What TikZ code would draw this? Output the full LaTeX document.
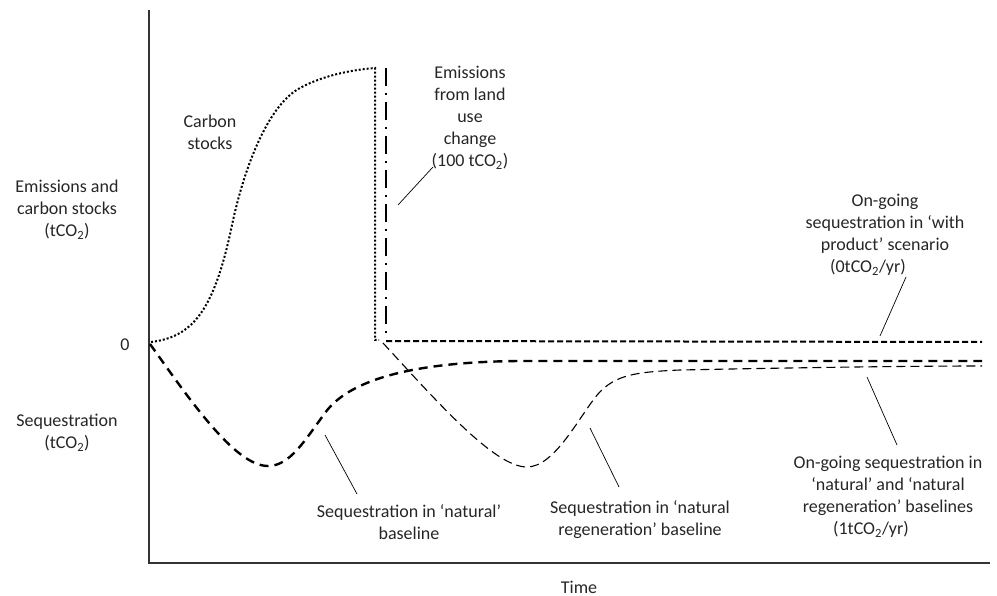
\documentclass[tikz,border=0pt]{standalone}
\usepackage{fontspec}
\setmainfont{Carlito}
\begin{document}
\begin{tikzpicture}[x=1pt,y=-1pt,
  lbl/.style={align=center,inner sep=0pt,font=\fontsize{18}{22}\selectfont,text=black!85},
  axis/.style={line width=1.4pt,black!80},
  leader/.style={line width=0.7pt,black},
  stockline/.style={line width=2pt,dash pattern=on 2pt off 2pt},
  luc/.style={line width=2.4pt,dash pattern=on 18pt off 7pt on 2pt off 7pt},
  withprod/.style={line width=2pt,dash pattern=on 6pt off 3pt},
  natbase/.style={line width=2.4pt,dash pattern=on 9pt off 6pt},
  regbase/.style={line width=1.1pt,dash pattern=on 9pt off 5pt}]
\useasboundingbox (0,0) rectangle (997,596);
% axes
\coordinate (ytop) at (149,10);
\coordinate (orig) at (149,563);
\coordinate (xend) at (990,563);
\draw[axis] (ytop) -- (orig) -- (xend);
% carbon stocks
\draw[stockline] (151,342) .. controls (192,337) and (214,312) .. (232,225)
  .. controls (244,168) and (268,105) .. (300,88)
  .. controls (322,76) and (350,70) .. (375,68) -- (375,340) -- (379,340);
% land use change
\draw[luc] (386,68) -- (386,338);
% with product
\draw[withprod] (386,341) -- (982,342);
% natural baseline
\draw[natbase] (150,344) .. controls (190,400) and (235,466) .. (268,466)
  .. controls (290,466) and (305,440) .. (325,413)
  .. controls (343,388) and (390,362) .. (520,361) -- (982,361);
% natural regeneration baseline
\draw[regbase] (383,343) .. controls (440,405) and (495,467) .. (527,467)
  .. controls (555,467) and (580,415) .. (598,394)
  .. controls (615,375) and (635,372) .. (680,370)
  .. controls (780,368) and (900,366) .. (982,366);
% labels
\node[lbl] (cs) at (210,132) {Carbon\\stocks};
\node[lbl] (luct) at (470,118) {Emissions\\from land\\use\\change\\(100 tCO\textsubscript{2})};
\node[lbl] (yup) at (67,210) {Emissions and\\carbon stocks\\(tCO\textsubscript{2})};
\node[lbl] (zero) at (125,345) {0};
\node[lbl] (ydn) at (67,433) {Sequestration\\(tCO\textsubscript{2})};
\node[lbl] (wp) at (885,235) {On-going\\sequestration in ‘with\\product’ scenario\\(0tCO\textsubscript{2}/yr)\rule{34pt}{0pt}};
\node[lbl] (nb) at (409,522) {Sequestration in ‘natural’\\baseline};
\node[lbl] (rb) at (640,520) {Sequestration in ‘natural\\regeneration’ baseline};
\node[lbl] (og) at (888,497) {On-going sequestration in\\‘natural’ and ‘natural\\regeneration’ baselines\\(1tCO\textsubscript{2}/yr)\rule{34pt}{0pt}};
\node[lbl] (time) at (579,587) {Time};
% leaders
\coordinate (l1a) at (398,205); \coordinate (l1b) at (433,167);
\coordinate (l2a) at (880,336); \coordinate (l2b) at (906,277);
\coordinate (l3a) at (867,377); \coordinate (l3b) at (897,445);
\coordinate (l4a) at (590,428); \coordinate (l4b) at (619,487);
\coordinate (l5a) at (325,435); \coordinate (l5b) at (357,494);
\draw[leader] (l1a) -- (l1b);
\draw[leader] (l2a) -- (l2b);
\draw[leader] (l3a) -- (l3b);
\draw[leader] (l4a) -- (l4b);
\draw[leader] (l5a) -- (l5b);
\end{tikzpicture}
\end{document}
